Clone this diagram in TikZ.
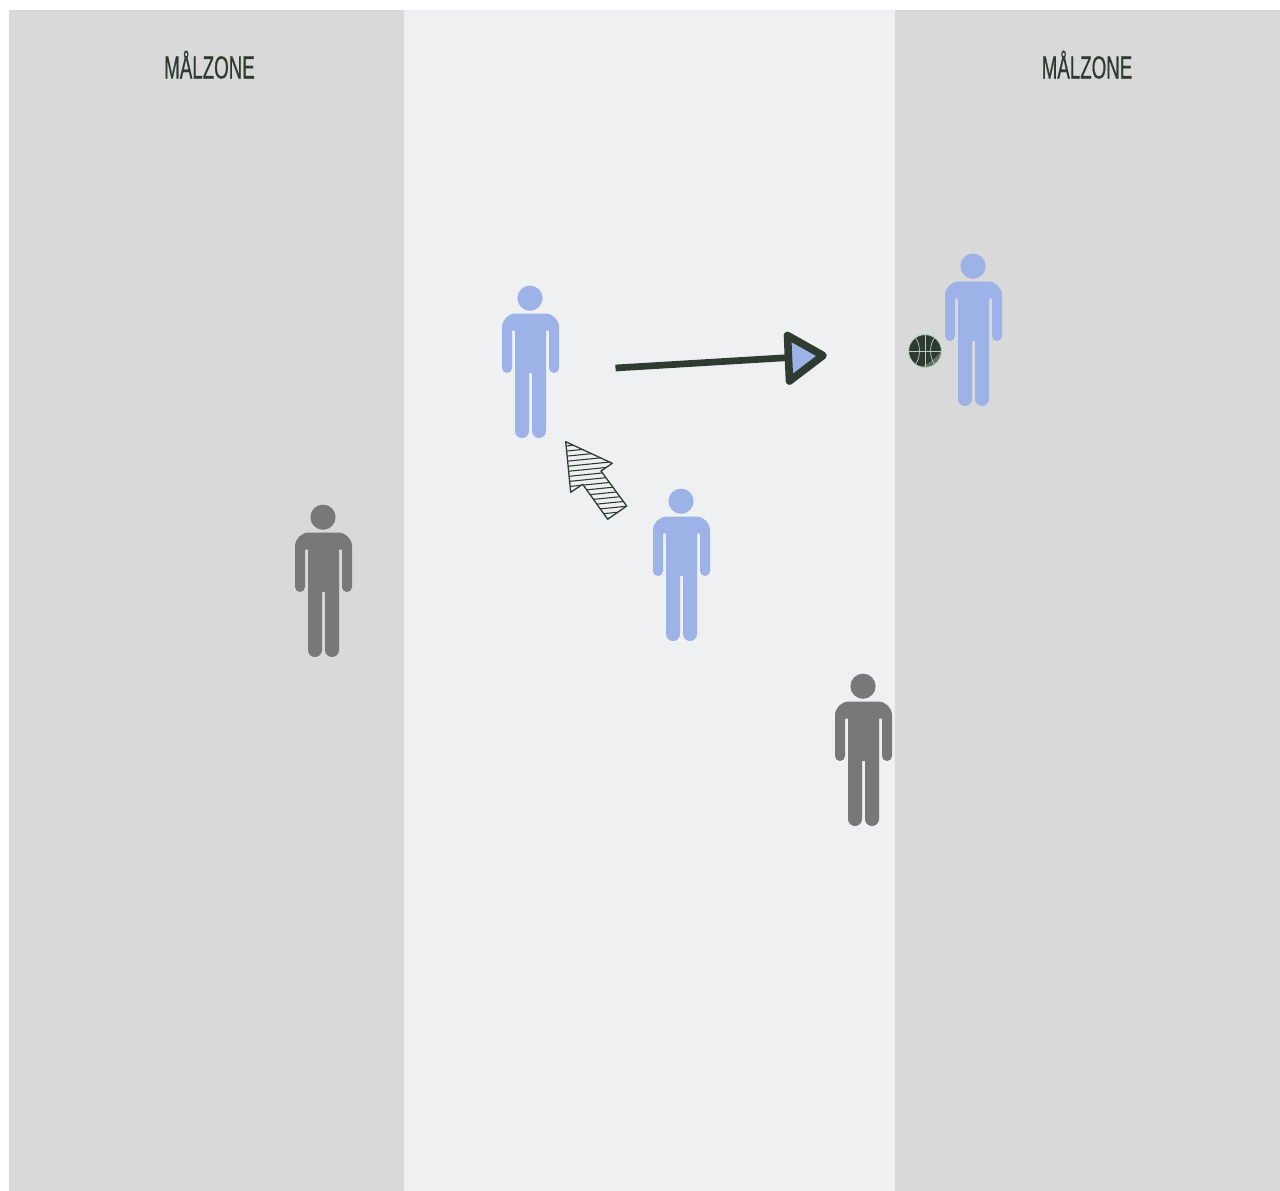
\documentclass[tikz,border=0pt]{standalone}
\usepackage{fontspec}
\newfontfamily\zonefont[FakeStretch=0.585,FakeBold=0.5]{Liberation Sans}
\definecolor{zonegrey}{HTML}{D9D9D9}
\definecolor{midzone}{HTML}{EFF0F2}
\definecolor{inkgreen}{HTML}{2F3B30}
\definecolor{teamblue}{HTML}{9DB2E6}
\definecolor{teamgrey}{HTML}{787878}
\definecolor{ballrim}{HTML}{B5CDBE}
\tikzset{
  x=1pt,y=-1pt,
  zonelabel/.style={text=inkgreen,inner sep=0pt,font=\zonefont\fontsize{32}{34}\selectfont},
  player/.pic={
    \fill[pic actions] (-.5,-.3) circle (12.6);
    \fill[pic actions]
      (-14.5,15) -- (14.5,15) .. controls (22.2,15) and (28.5,21.3) .. (28.5,29)
      -- (28.5,69.5) .. controls (28.5,72.3) and (26.3,74.5) .. (23.5,74.5)
      .. controls (20.7,74.5) and (18.5,72.3) .. (18.5,69.5)
      -- (18.5,32) -- (15.5,32) -- (15.5,132.5)
      .. controls (15.5,136.4) and (12.4,139.5) .. (8.5,139.5)
      .. controls (4.6,139.5) and (1.5,136.4) .. (1.5,132.5)
      -- (1.5,74.5) -- (-1.5,74.5) -- (-1.5,132.5)
      .. controls (-1.5,136.4) and (-4.6,139.5) .. (-8.5,139.5)
      .. controls (-12.4,139.5) and (-15.5,136.4) .. (-15.5,132.5)
      -- (-15.5,32) -- (-18.5,32) -- (-18.5,69.5)
      .. controls (-18.5,72.3) and (-20.7,74.5) .. (-23.5,74.5)
      .. controls (-26.3,74.5) and (-28.5,72.3) .. (-28.5,69.5)
      -- (-28.5,29) .. controls (-28.5,21.3) and (-22.2,15) .. (-14.5,15) -- cycle;
  }
}
\begin{document}
\begin{tikzpicture}
\useasboundingbox (0,0) rectangle (1280,1191);
\fill[white] (0,0) rectangle (1280,1191);
\fill[zonegrey] (8.7,10) rectangle (404,1190.5);
\fill[midzone] (404,10) rectangle (895,1190.5);
\fill[zonegrey] (895,10) rectangle (1280,1190.5);
\node[zonelabel] (zoneL) at (209.5,64.7) {MÅLZONE};
\node[zonelabel] (zoneR) at (1087,64.7) {MÅLZONE};
\pic[fill=teamblue] at (530.5,298.5) {player};
\pic[fill=teamblue] at (681.5,501.5) {player};
\pic[fill=teamblue] at (973.5,266.5) {player};
\pic[fill=teamgrey] at (323.5,517.5) {player};
\pic[fill=teamgrey] at (863.5,686.5) {player};
% pass arrow
\coordinate (passA) at (615.5,368);
\coordinate (passB) at (790,357.5);
\draw[inkgreen,line width=6.7] (passA) -- (passB);
\draw[inkgreen,fill=teamblue,line width=7.6,line join=round] (787.5,335.5) -- (823,355.5) -- (789.5,381) -- cycle;
% hatched arrow
\begin{scope}
  \clip (565.7,441.7) -- (612.3,463.3) -- (601,471) -- (626.7,506) -- (607.7,519.3) -- (582.7,484.3) -- (570.7,492.3) -- cycle;
  \fill[midzone] (560,435) rectangle (630,525);
  \foreach \k in {0,...,18}
    \draw[inkgreen,line width=1.1] (555,{442+5.1*\k}) -- (635,{442+5.1*\k-8});
\end{scope}
\draw[inkgreen,line width=1.3,line join=round] (565.7,441.7) -- (612.3,463.3) -- (601,471) -- (626.7,506) -- (607.7,519.3) -- (582.7,484.3) -- (570.7,492.3) -- cycle;
% ball
\begin{scope}
  \fill[inkgreen] (925,351) circle (16.3);
  \clip (925,351) circle (16.3);
  \fill[inkgreen!65!ballrim] (941,351) -- (941,368) -- (918,368) .. controls (929,364) and (936,358) .. (941,351);
  \draw[ballrim,line width=.7] (909,351) -- (941,351) (925,335) -- (925,367);
  \draw[ballrim,line width=.7] (915,337) .. controls (921,345) and (921,357) .. (915,365);
  \draw[ballrim,line width=.7] (935,337) .. controls (929,345) and (929,357) .. (935,365);
\end{scope}
\draw[ballrim,line width=1] (925,351) circle (16.5);
\end{tikzpicture}
\end{document}
